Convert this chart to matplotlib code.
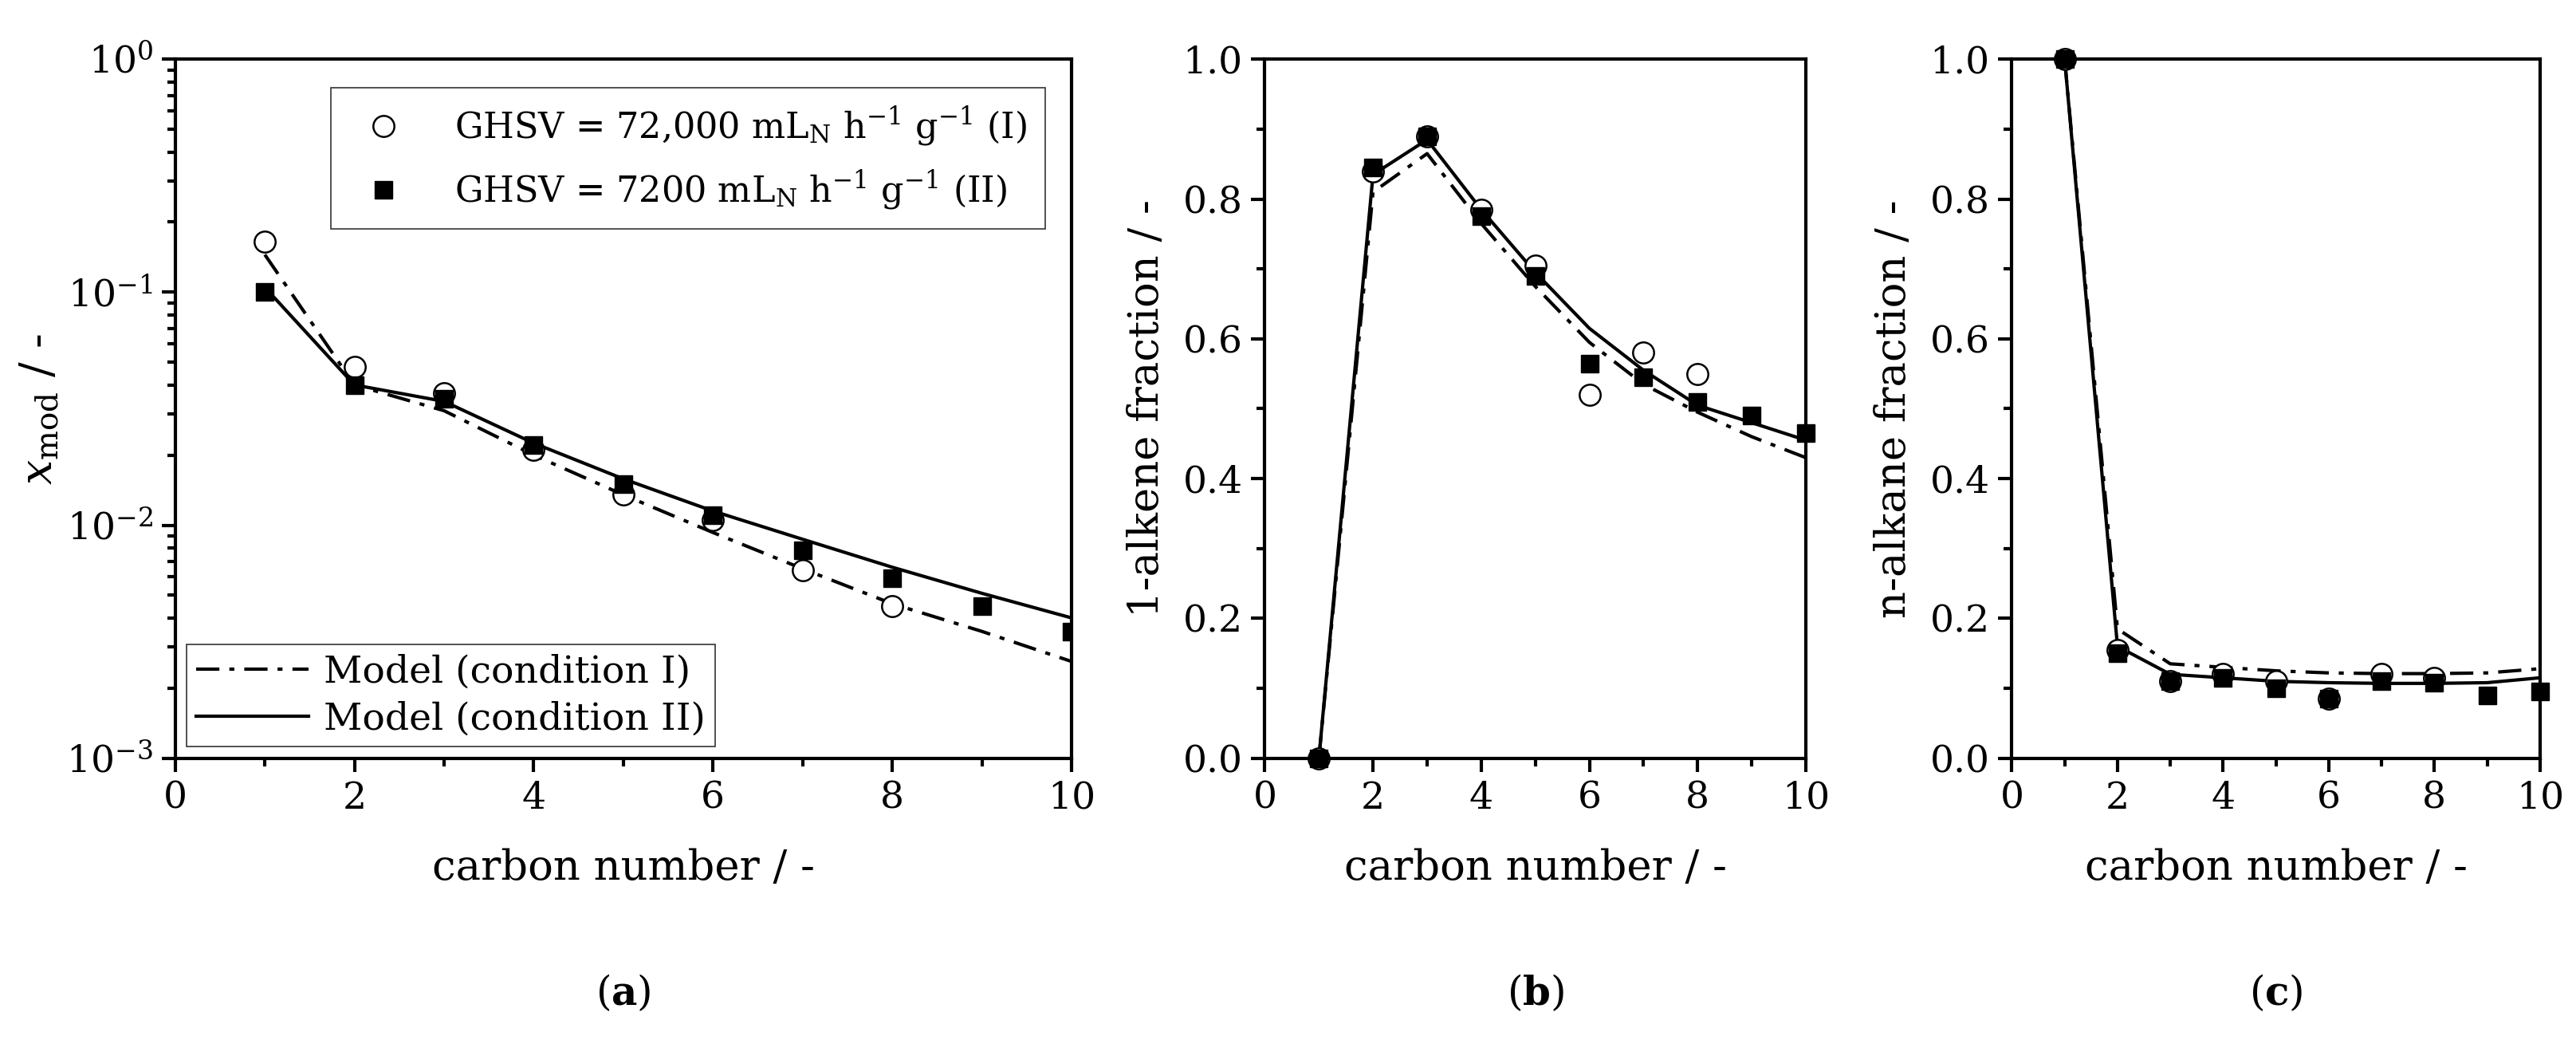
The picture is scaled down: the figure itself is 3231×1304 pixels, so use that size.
import numpy as np
import matplotlib
matplotlib.use("Agg")
import matplotlib.pyplot as plt
from matplotlib.ticker import MultipleLocator, LogLocator, NullFormatter

plt.rcParams['font.family'] = ['DejaVu Serif']
plt.rcParams['mathtext.fontset'] = 'dejavuserif'
plt.rcParams['font.size'] = 30

cn_I = [1, 2, 3, 4, 5, 6, 7, 8]
cn_II = [1, 2, 3, 4, 5, 6, 7, 8, 9, 10]
cn_model = [1, 2, 3, 4, 5, 6, 7, 8, 9, 10]

xa_I = [0.165, 0.048, 0.037, 0.021, 0.0135, 0.0105, 0.0064, 0.0045]
xa_II = [0.10, 0.040, 0.035, 0.022, 0.015, 0.011, 0.0078, 0.0059, 0.0045, 0.0035]
xa_mI = [0.145, 0.040, 0.031, 0.020, 0.0135, 0.0093, 0.0065, 0.0046, 0.0035, 0.0026]
xa_mII = [0.105, 0.040, 0.034, 0.0225, 0.0158, 0.0115, 0.0087, 0.0066, 0.0051, 0.0040]

alk_I = [0.0, 0.84, 0.89, 0.785, 0.705, 0.52, 0.58, 0.55]
alk_II = [0.0, 0.845, 0.89, 0.775, 0.69, 0.565, 0.545, 0.51, 0.49, 0.465]
alk_mI = [0.0, 0.81, 0.865, 0.765, 0.675, 0.595, 0.535, 0.495, 0.46, 0.43]
alk_mII = [0.0, 0.835, 0.885, 0.785, 0.695, 0.615, 0.555, 0.505, 0.48, 0.455]

ane_I = [1.0, 0.155, 0.11, 0.12, 0.11, 0.085, 0.12, 0.115]
ane_II = [1.0, 0.15, 0.11, 0.115, 0.10, 0.085, 0.11, 0.108, 0.09, 0.095]
ane_mI = [1.0, 0.185, 0.135, 0.13, 0.125, 0.122, 0.121, 0.121, 0.122, 0.128]
ane_mII = [1.0, 0.16, 0.12, 0.115, 0.11, 0.108, 0.107, 0.107, 0.108, 0.115]

fig = plt.figure(figsize=(32.31, 13.04), dpi=100)
axa = fig.add_axes([0.068, 0.271, 0.348, 0.672])
axb = fig.add_axes([0.491, 0.271, 0.210, 0.672])
axc = fig.add_axes([0.781, 0.271, 0.205, 0.672])

def draw(ax, yI, yII, mI, mII):
    lmI, = ax.plot(cn_model, mI, color='black', ls=(0, (7, 3, 1.5, 3)), lw=3, label='Model (condition I)')
    lmII, = ax.plot(cn_model, mII, color='black', ls='-', lw=3, label='Model (condition II)')
    p1, = ax.plot(cn_I, yI, 'o', mfc='white', mec='black', ms=19, mew=1.8, ls='none',
                  label=r'GHSV = 72,000 mL$_\mathrm{N}$ h$^{-1}$ g$^{-1}$ (I)')
    p2, = ax.plot(cn_II, yII, 's', color='black', ms=16, ls='none',
                  label=r'GHSV = 7200 mL$_\mathrm{N}$ h$^{-1}$ g$^{-1}$ (II)')
    ax.set_xlim(0, 10)
    ax.xaxis.set_major_locator(MultipleLocator(2))
    ax.xaxis.set_minor_locator(MultipleLocator(1))
    ax.tick_params(which='major', direction='out', length=12, width=3, labelsize=34, pad=8)
    ax.tick_params(which='minor', direction='out', length=7, width=3)
    for s in ax.spines.values():
        s.set_linewidth(3)
    ax.set_xlabel('carbon number / -', fontsize=38, labelpad=28)
    return lmI, lmII, p1, p2

lmI, lmII, p1, p2 = draw(axa, xa_I, xa_II, xa_mI, xa_mII)
axa.set_yscale('log')
axa.set_ylim(1e-3, 1)
axa.yaxis.set_major_locator(LogLocator(base=10, numticks=10))
axa.yaxis.set_minor_locator(LogLocator(base=10, subs=np.arange(2, 10), numticks=10))
axa.yaxis.set_minor_formatter(NullFormatter())
axa.set_ylabel(r'$x_\mathrm{mod}$ / -', fontsize=40)
leg1 = axa.legend(handles=[p1, p2], loc='upper right', frameon=True, fancybox=False,
                  edgecolor='black', fontsize=32, handletextpad=1.0, borderpad=0.5,
                  bbox_to_anchor=(0.99, 0.985), labelspacing=0.6)
leg1.get_frame().set_linewidth(1.2)
axa.add_artist(leg1)
leg2 = axa.legend(handles=[lmI, lmII], loc='lower left', frameon=True, fancybox=False,
                  edgecolor='black', fontsize=34, handlelength=3.0, handletextpad=0.4,
                  borderpad=0.25, borderaxespad=0.3, labelspacing=0.3)
leg2.get_frame().set_linewidth(1.2)

for ax, d, lab in [(axb, (alk_I, alk_II, alk_mI, alk_mII), '1-alkene fraction / -'),
                   (axc, (ane_I, ane_II, ane_mI, ane_mII), 'n-alkane fraction / -')]:
    draw(ax, *d)
    ax.set_ylim(0, 1)
    ax.yaxis.set_major_locator(MultipleLocator(0.2))
    ax.yaxis.set_minor_locator(MultipleLocator(0.1))
    ax.yaxis.set_major_formatter(matplotlib.ticker.FormatStrFormatter('%.1f'))
    ax.set_ylabel(lab, fontsize=38, labelpad=14)
    for l in ax.lines:
        l.set_clip_on(False)

for ax, t in [(axa, 'a'), (axb, 'b'), (axc, 'c')]:
    pos = ax.get_position()
    fig.text((pos.x0 + pos.x1) / 2, 0.045, '(' + r'$\mathbf{' + t + '}$' + ')',
             ha='center', va='center', fontsize=36)

fig.savefig('out.png', dpi=100, facecolor='white')
